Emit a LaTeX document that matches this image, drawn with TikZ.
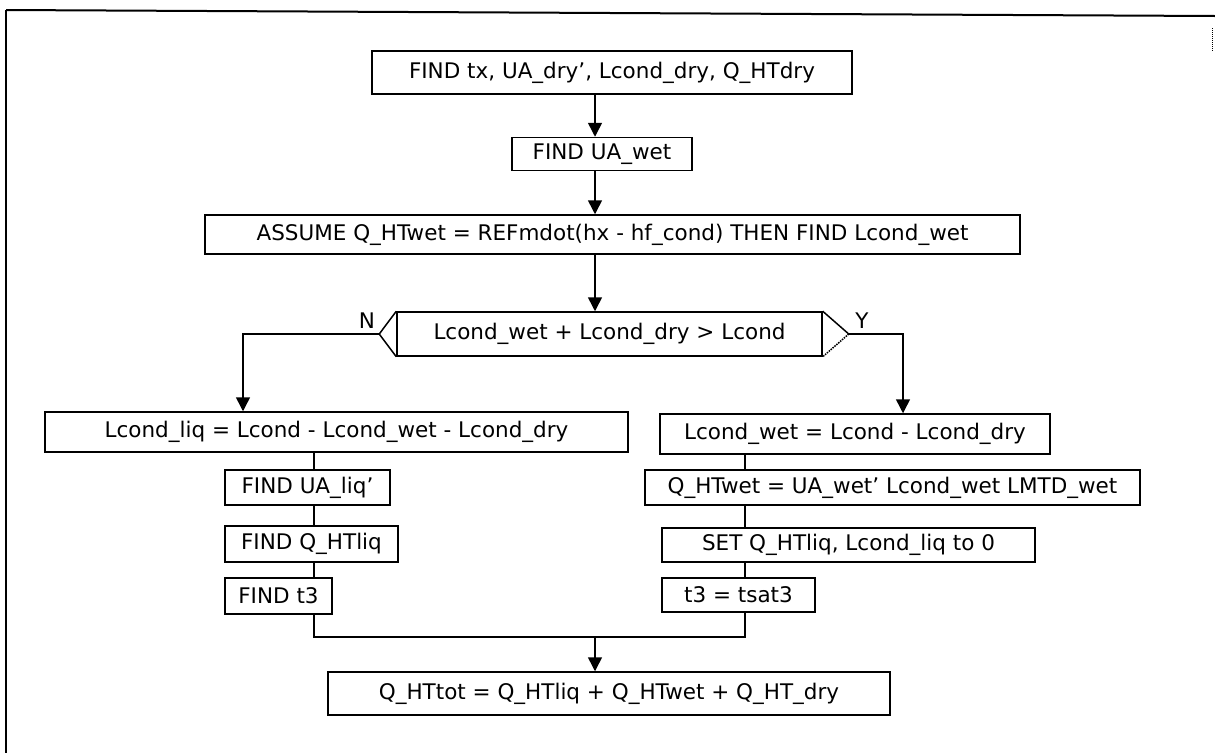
\documentclass[tikz,border=0pt]{standalone}
\usepackage{fontspec}
\setmainfont{DejaVu Sans}
\usetikzlibrary{arrows.meta, positioning, calc}

\tikzset{
  box/.style={draw, line width=1.5pt, inner sep=0pt, font=\fontsize{21.5}{23}\selectfont},
  flow/.style={line width=1.5pt},
  arr/.style={flow, -{Triangle[length=14pt,width=14pt]}},
  lbl/.style={font=\fontsize{21.5}{23}\selectfont}
}

\begin{document}
\begin{tikzpicture}[x=1pt, y=-1pt]
    \useasboundingbox (0,0) rectangle (1215,753);

    % Frame
    \draw[line width=2pt] (6,10) -- (1215,16);
    \draw[line width=2pt] (6,10) -- (6,753);
    \draw[line width=1pt, densely dotted] (1212,28) -- (1212,52);

    % Columns
    \coordinate (spine) at (595,0);
    \coordinate (lcol) at (314,0);
    \coordinate (rcol) at (745,0);
    \coordinate (merge) at (0,637);

    % Top part
    \node[box, minimum width=480pt, minimum height=43pt] (find1) at (612,72.5) {FIND tx, UA\_dry', Lcond\_dry, Q\_HTdry};
    \node[box, minimum width=180pt, minimum height=33pt] (uawet) at (602,154) {FIND UA\_wet};
    \node[box, minimum width=815pt, minimum height=39pt] (assume) at (612.5,234.5) {ASSUME Q\_HTwet = REFmdot(hx - hf\_cond) THEN FIND Lcond\_wet};

    % Decision
    \node[box, minimum width=425pt, minimum height=44pt] (dec) at (609.5,334) {Lcond\_wet + Lcond\_dry > Lcond};
    \coordinate (decL) at ($(dec.west)+(-17,0)$);
    \coordinate (decR) at ($(dec.east)+(26,0)$);
    \draw[flow] (dec.north west) -- (decL) -- (dec.south west);
    \draw[flow] (dec.north east) -- (decR);
    \draw[flow, densely dotted] (decR) -- (dec.south east);
    \coordinate (nturn) at (243,334);
    \coordinate (yturn) at (903,334);
    \node[lbl] (nlab) at (367,321) {N};
    \node[lbl] (ylab) at (862,321) {Y};

    % N branch
    \node[box, minimum width=583pt, minimum height=40pt] (lliq) at (336.5,432) {Lcond\_liq = Lcond - Lcond\_wet - Lcond\_dry};
    \node[box, minimum width=165pt, minimum height=35pt] (ualiq) at (307.5,487.5) {FIND UA\_liq'};
    \node[box, minimum width=173pt, minimum height=36pt] (qliq) at (311.5,544) {FIND Q\_HTliq};
    \node[box, minimum width=107pt, minimum height=36pt] (tthree) at (278.5,596) {FIND t3};

    % Y branch
    \node[box, minimum width=390pt, minimum height=40pt] (lwet) at (855,434) {Lcond\_wet = Lcond - Lcond\_dry};
    \node[box, minimum width=495pt, minimum height=35pt] (qwet) at (892.5,487.5) {Q\_HTwet = UA\_wet' Lcond\_wet LMTD\_wet};
    \node[box, minimum width=373pt, minimum height=34pt] (setliq) at (848.5,545) {SET Q\_HTliq, Lcond\_liq to 0};
    \node[box, minimum width=153pt, minimum height=34pt] (tsat) at (738.5,595) {t3 = tsat3};

    % Total
    \node[box, minimum width=562pt, minimum height=43pt] (qtot) at (609,693.5) {Q\_HTtot = Q\_HTliq + Q\_HTwet + Q\_HT\_dry};

    % Connectors
    \draw[arr] (find1.south -| spine) -- (uawet.north -| spine);
    \draw[arr] (uawet.south -| spine) -- (assume.north -| spine);
    \draw[arr] (assume.south -| spine) -- (dec.north -| spine);
    \draw[arr] (decL) -- (nturn) -- (lliq.north -| nturn);
    \draw[arr] (decR) -- (yturn) -- (lwet.north -| yturn);
    \draw[flow] (lliq.south -| lcol) -- (ualiq.north -| lcol);
    \draw[flow] (ualiq.south -| lcol) -- (qliq.north -| lcol);
    \draw[flow] (qliq.south -| lcol) -- (tthree.north -| lcol);
    \draw[flow] (lwet.south -| rcol) -- (qwet.north -| rcol);
    \draw[flow] (qwet.south -| rcol) -- (setliq.north -| rcol);
    \draw[flow] (setliq.south -| rcol) -- (tsat.north -| rcol);
    \draw[flow] (tthree.south -| lcol) -- (lcol |- merge) -- (rcol |- merge) -- (tsat.south -| rcol);
    \draw[arr] (spine |- merge) -- (qtot.north -| spine);
\end{tikzpicture}
\end{document}
